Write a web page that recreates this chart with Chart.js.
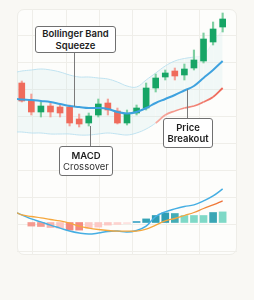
<!DOCTYPE html>
<html><head><meta charset="utf-8">
<script src="https://cdn.jsdelivr.net/npm/chart.js@4"></script>
<style>
html,body{margin:0;padding:0;background:#f9f8f4;width:254px;height:300px;overflow:hidden;font-family:Inter,"Noto Sans",sans-serif;}
#card{position:absolute;left:17px;top:9px;width:220px;height:246px;box-sizing:border-box;border:1px solid #eeede8;border-radius:7px;background:#fdfdfb;}
#wrap{position:absolute;left:0;top:0;width:254px;height:300px;}
.note{position:absolute;box-sizing:border-box;background:#fff;border:1px solid #707070;border-radius:3px;text-align:center;font-size:9.5px;line-height:11.4px;color:#1d1d1d;font-weight:600;display:flex;flex-direction:column;justify-content:center;white-space:nowrap;}
.note .reg{font-weight:400;color:#333;}
</style></head>
<body>
<div id="card"></div>
<div id="wrap"><canvas id="c" width="254" height="300"></canvas></div>
<div class="note" id="n1" style="left:35px;top:26px;width:81px;height:27px;"><div>Bollinger Band</div><div>Squeeze</div></div>
<div class="note" id="n2" style="left:59px;top:146px;width:54px;height:30px;"><div>MACD</div><div class="reg">Crossover</div></div>
<div class="note" id="n3" style="left:163px;top:118px;width:50px;height:30px;"><div>Price</div><div>Breakout</div></div>
<script>
// ---- data ----
const candleIdx = [0,1,2,3,4,5,6,7,8,9,10,11,12,13,14,15,16,17,18,19,20,21];
const open  = [88.5,80,74,77,76.5,76.5,70.5,68.5,72.5,78.5,74.5,68.5,73.5,76,86,91.5,94.5,92.5,96,99.5,109,116.5];
const high  = [89.5,83,79,78.5,78,77.5,73,73.5,80.5,80.5,76,75,77.5,88.5,93,95,96,98,105,113.5,119,123.5];
const low   = [79,72.5,71.5,71.5,71.5,67,66.5,67,71.5,72.5,68,67.5,72.5,75,84,90,90,90,95,98.5,107.5,114];
const close = [79.5,74,77,74,73.5,68.5,68,72,78,75,68.5,73,76,86,91,93.5,92,95.5,100,110.5,115.5,120.5];

const lineIdx = [-0.5,0,1,2,3,4,5,6,7,8,9,10,11,12,13,14,15,16,17,18,19,20,21];
const upperBand  = [94,94.5,95,95.5,95,94,92.5,91.5,91.5,91,90.5,89,87,86.5,90,93.5,97,99.5,100.75,101.5,102.5,109,115];
const middleBand = [80.5,80.25,80,79.5,79,78,77,76.5,76,76,75.5,74,73.25,74,76,78.5,80.5,82.5,84.75,87,91,95,99.5];
const lowerBand  = [64,64,63.5,63.5,63,63,63,62.5,62.5,63,63.5,63,62.5,63.5,65.5,68.5,72.5,74.5,76,77,79,81.5,86];

const macdLine   = [0.48,0.38,0.18,0.03,-0.13,-0.28,-0.43,-0.53,-0.58,-0.53,-0.45,-0.43,-0.48,-0.40,-0.18,0.30,0.53,0.68,0.80,0.88,1.08,1.33,1.68];
const signalLine = [0.48,0.38,0.30,0.23,0.15,0.08,-0.03,-0.18,-0.28,-0.35,-0.40,-0.43,-0.43,-0.43,-0.33,-0.13,0.08,0.20,0.35,0.50,0.70,0.88,1.08];
const histogram  = [null,-0.18,-0.2,-0.25,-0.28,-0.38,-0.38,-0.28,-0.23,-0.13,-0.1,-0.06,0.05,0.18,0.35,0.48,0.45,0.35,0.35,0.35,0.5,0.53];

// ---- styles ----
const histColors = [null,'#f49a90','#f49a90','#f8b3ab','#fbc6c1','#f4897e','#f4897e','#fcc8c4','#fcc8c4','#fcc8c4','#fdd3cf','#fde3e0',
  '#3aa3c6','#35a3b6','#2f9db3','#2f9db3','#44adb6','#7fd9c7','#7fd9c7','#7fd9c7','#3aa6b5','#7fd9c7'];
const UP='#17a566', DOWN='#ef6b5b', UPW='#7fcfa2', DOWNW='#f3a39a';

const isUp = candleIdx.map((_,i)=>close[i]>=open[i]);
const pts = (xs,ys)=>xs.map((x,i)=>({x,y:ys[i]}));

const notes = [
  {el:'n1', ax:5.5,  ay:(middleBand[6]+middleBand[7])/2, scale:'yP', edge:'bottom'},
  {el:'n2', ax:7.1,  ay:low[7], scale:'yP', edge:'top'},
  {el:'n3', ax:17.25,ay:(middleBand[18]*0.75+middleBand[19]*0.25), scale:'yP', edge:'top'}
];

const notePlugin = {
  id:'notes',
  afterDraw(chart){
    const c = chart.ctx;
    c.save();
    c.strokeStyle='#7a7a7a'; c.lineWidth=1;
    notes.forEach(n=>{
      const el=document.getElementById(n.el);
      const x=Math.round(chart.scales.x.getPixelForValue(n.ax))+0.5;
      const y=chart.scales[n.scale].getPixelForValue(n.ay);
      const ey = n.edge==='bottom' ? el.offsetTop+el.offsetHeight : el.offsetTop;
      c.beginPath(); c.moveTo(x,y); c.lineTo(x,ey); c.stroke();
    });
    c.restore();
  }
};

function grad(ctx, x0, x1, c0, c1){
  const ch = ctx.chart; const sx = ch.scales && ch.scales.x;
  if(!sx || !ch.chartArea) return c1;
  const p0 = sx.getPixelForValue(x0), p1 = sx.getPixelForValue(x1);
  if(!isFinite(p0) || !isFinite(p1)) return c1;
  const g = ch.ctx.createLinearGradient(p0,0,p1,0);
  g.addColorStop(0,c0); g.addColorStop(1,c1); return g;
}

new Chart(document.getElementById('c'), {
  type:'bar',
  data:{datasets:[
    {type:'line', label:'Upper', data:pts(lineIdx,upperBand), yAxisID:'yP', xAxisID:'x', order:20,
     borderColor:'#bfe2f0', borderWidth:1, pointRadius:0, tension:0.4, fill:'+1', backgroundColor:'rgba(200,230,232,0.22)',
     segment:{borderColor:ctx=>ctx.p0.parsed.x>=18?'rgba(191,226,240,0.25)':undefined}},
    {type:'line', label:'Lower', data:pts(lineIdx,lowerBand), yAxisID:'yP', xAxisID:'x', order:19,
     borderColor:'#bfe2f0', borderWidth:1, pointRadius:0, tension:0.4, fill:false,
     segment:{borderColor:ctx=>ctx.p0.parsed.x>=13.5?grad(ctx,13.5,21,'#f6b0a6','#ee6657'):undefined,
              borderWidth:ctx=>ctx.p0.parsed.x>=13.5?1.8:undefined}},
    {type:'bar', label:'Wicks', data:candleIdx.map(i=>({x:i,y:[low[i],high[i]]})), yAxisID:'yP', xAxisID:'x', order:6,
     grouped:false, barThickness:1.5, backgroundColor:isUp.map(u=>u?UPW:DOWNW)},
    {type:'bar', label:'Bodies', data:candleIdx.map(i=>({x:i,y:[open[i],close[i]]})), yAxisID:'yP', xAxisID:'x', order:5,
     grouped:false, barThickness:6, backgroundColor:isUp.map(u=>u?UP:DOWN)},
    {type:'line', label:'Middle', data:pts(lineIdx,middleBand), yAxisID:'yP', xAxisID:'x', order:4,
     borderColor:'#3ea2df', borderWidth:2, pointRadius:0, tension:0.4},
    {type:'bar', label:'Histogram', data:candleIdx.map(i=>({x:i,y:histogram[i]})), yAxisID:'yM', xAxisID:'x', order:9,
     grouped:false, barThickness:7, backgroundColor:histColors},
    {type:'line', label:'MACD', data:pts(lineIdx,macdLine), yAxisID:'yM', xAxisID:'x', order:3,
     borderColor:'#45aee3', borderWidth:1.5, pointRadius:0, tension:0.4},
    {type:'line', label:'Signal', data:pts(lineIdx,signalLine), yAxisID:'yM', xAxisID:'x', order:2,
     borderColor:ctx=>grad(ctx,17,21,'#f5a73c','#ee6d38'), borderWidth:1.3, pointRadius:0, tension:0.4}
  ]},
  options:{
    responsive:false, animation:false, devicePixelRatio:1,
    layout:{padding:{left:17,right:17,top:9,bottom:45}},
    plugins:{legend:{display:false},tooltip:{enabled:false}},
    scales:{
      x:{type:'linear',min:-0.5,max:22.5,offset:false,display:false,grid:{offset:false}},
      yP:{type:'linear',min:2.5,max:125.5,display:false},
      yM:{type:'linear',min:-1.625,max:10.675,display:false},
      xg:{type:'linear',position:'bottom',min:-0.3118,max:4.964,
          ticks:{display:false,stepSize:1,includeBounds:false},grid:{color:'#efeee9',drawTicks:false},border:{display:false}},
      yg:{type:'linear',position:'left',reverse:true,min:-0.963,max:8.148,
          ticks:{display:false,stepSize:1,includeBounds:false},grid:{color:'#efeee9',drawTicks:false},border:{display:false}}
    }
  },
  plugins:[notePlugin]
});
</script>
</body></html>
